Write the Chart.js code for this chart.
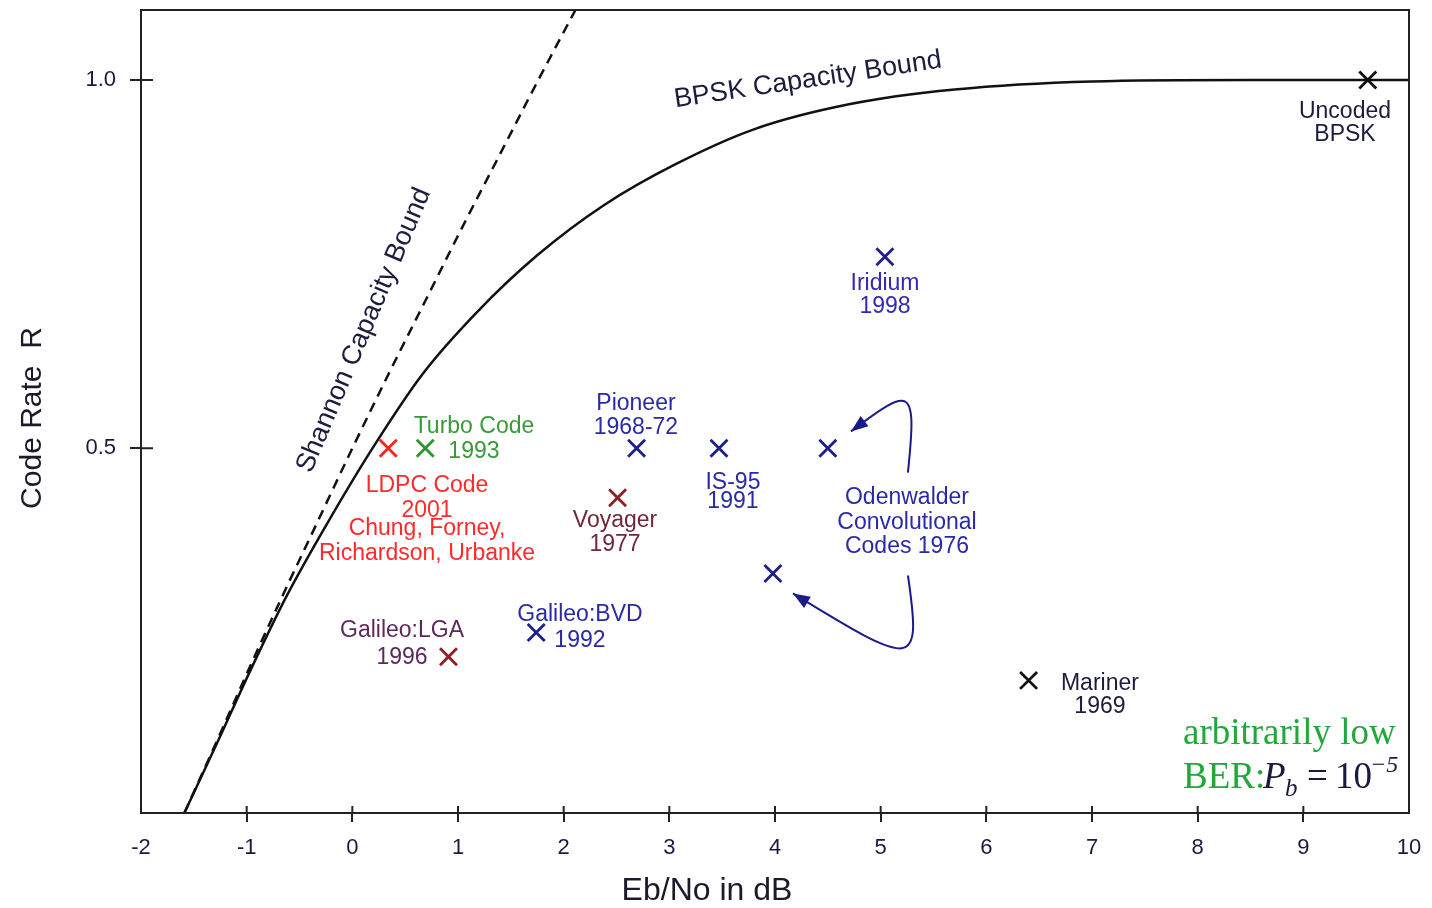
<!DOCTYPE html>
<html>
<head>
<meta charset="utf-8">
<script src="https://cdn.jsdelivr.net/npm/chart.js@4.4.1/dist/chart.umd.min.js"></script>
<style>
body{margin:0;background:#fff}
#wrap{width:1432px;height:908px}
</style>
</head>
<body>
<div id="wrap"><canvas id="myChart"></canvas></div>
<script>
// Shannon capacity bound (dashed)
const shannonEbNo = [-1.59, -1.29, -0.98, -0.66, -0.33, 0.00, 0.34, 0.69, 1.04, 1.40, 1.76, 2.13]
const shannonRate = [0.005, 0.1, 0.2, 0.3, 0.4, 0.5, 0.6, 0.7, 0.8, 0.9, 1.0, 1.1]

// BPSK capacity bound (solid)
const bpskEbNo = [-1.59, -1.28, -0.96, -0.62, -0.23, 0.19, 0.66, 1.18, 1.75, 2.38, 3.05, 3.80, 4.70, 5.70, 7.00, 8.50, 10.0]
const bpskRate = [0.005, 0.1, 0.2, 0.3, 0.4, 0.5, 0.6, 0.685, 0.762, 0.83, 0.885, 0.933, 0.967, 0.987, 0.998, 1.0, 1.0]

// codes (x marks)
const codeNames = ['Pioneer', 'IS-95', 'Odenwalder r1/2', 'Odenwalder r1/3', 'Galileo:BVD', 'Iridium', 'LDPC', 'Turbo', 'Voyager', 'Galileo:LGA', 'Mariner', 'Uncoded BPSK']
const codeEbNo = [2.69, 3.47, 4.50, 3.98, 1.74, 5.04, 0.34, 0.69, 2.51, 0.91, 6.40, 9.61]
const codeRate = [0.5, 0.5, 0.5, 0.33, 0.25, 0.76, 0.5, 0.5, 0.433, 0.217, 0.185, 1.0]
const codeGroup = ['blue', 'blue', 'blue', 'blue', 'blue', 'blue', 'red', 'green', 'maroon', 'maroon', 'black', 'black']

const xTicks = [-2, -1, 0, 1, 2, 3, 4, 5, 6, 7, 8, 9, 10]
const yTicks = [0.5, 1.0]

const groupColor = {blue:'#1e1e8c', red:'#ff2020', green:'#2a962a', maroon:'#8b2222', black:'#111'}
const SANS = "'Liberation Sans', Arial, sans-serif"
const SERIF = "'Liberation Serif', 'Times New Roman', serif"

// text notes, placed in data units
const notes = [
    {lines:['Uncoded','BPSK'], x:9.394, y:0.9565, dy:[0,23], color:'#1c1c3c'},
    {lines:['Iridium','1998'], x:5.041, y:0.7242, dy:[0,23], color:'#3428b4'},
    {lines:['Pioneer','1968-72'], x:2.684, y:0.5611, dy:[0,24], color:'#2a2aa6'},
    {lines:['Turbo Code','1993'], x:1.151, y:0.5299, dy:[0,25], color:'#3a9a3a'},
    {lines:['LDPC Code','2001','Chung, Forney,','Richardson, Urbanke'], x:0.707, y:0.4497, dy:[0,25,43,68], color:'#ff2a2a'},
    {lines:['IS-95','1991'], x:3.602, y:0.4538, dy:[0,19], color:'#2a2aa6'},
    {lines:['Voyager','1977'], x:2.486, y:0.4022, dy:[0,24], color:'#6e2838'},
    {lines:['Odenwalder','Convolutional','Codes 1976'], x:5.249, y:0.4334, dy:[0,25,49], color:'#2a2aa6'},
    {lines:['Galileo:BVD','1992'], x:2.154, y:0.2745, dy:[0,26], color:'#2a2aa6'},
    {lines:['Galileo:LGA','1996'], x:0.470, y:0.2527, dy:[0,27], color:'#5a2a5a'},
    {lines:['Mariner','1969'], x:7.075, y:0.1807, dy:[0,23], color:'#1c1c3c'}
]
const slanted = [
    {text:'Shannon Capacity Bound', x:0.110, y:0.6603, angle:-67},
    {text:'BPSK Capacity Bound', x:4.312, y:1.0, angle:-8.5}
]
// curved arrows from the Odenwalder note (cubic bezier, data units)
const arrows = [
    [[5.258,0.467],[5.344,0.5856],[5.296,0.5856],[4.719,0.523]],
    [[5.258,0.3274],[5.391,0.1984],[5.325,0.2011],[4.170,0.303]]
]

const groups = ['blue','red','green','maroon','black']
const markerSets = groups.map(g => ({
    label: g,
    data: codeEbNo.map((x,i) => ({x, y:codeRate[i], g:codeGroup[i]})).filter(p => p.g === g),
    pointStyle: 'crossRot',
    pointRadius: 12,
    pointBorderWidth: 2.8,
    borderColor: groupColor[g],
    backgroundColor: groupColor[g],
    showLine: false
}))

const decor = {
    id:'decor',
    afterDraw(chart){
        const c = chart.ctx, a = chart.chartArea
        const sx = chart.scales.x, sy = chart.scales.y
        const X = v => sx.getPixelForValue(v), Y = v => sy.getPixelForValue(v)
        c.save()
        // frame
        c.strokeStyle = '#222'; c.lineWidth = 2
        c.strokeRect(a.left, a.top, a.right - a.left, a.bottom - a.top)
        // inward tick parts
        c.beginPath()
        xTicks.slice(1,-1).forEach(v => { c.moveTo(X(v), a.bottom); c.lineTo(X(v), a.bottom - 7) })
        yTicks.forEach(v => { c.moveTo(a.left, Y(v)); c.lineTo(a.left + 12, Y(v)) })
        c.stroke()

        // arrows
        c.strokeStyle = '#1a1a8a'; c.fillStyle = '#1a1a8a'; c.lineWidth = 2
        arrows.forEach(p => {
            const q = p.map(d => [X(d[0]), Y(d[1])])
            c.beginPath()
            c.moveTo(q[0][0], q[0][1])
            c.bezierCurveTo(q[1][0], q[1][1], q[2][0], q[2][1], q[3][0], q[3][1])
            c.stroke()
            const ang = Math.atan2(q[3][1] - q[2][1], q[3][0] - q[2][0])
            const L = 17, W = 6.5
            c.beginPath()
            c.moveTo(q[3][0], q[3][1])
            c.lineTo(q[3][0] - L*Math.cos(ang) + W*Math.sin(ang), q[3][1] - L*Math.sin(ang) - W*Math.cos(ang))
            c.lineTo(q[3][0] - L*Math.cos(ang) - W*Math.sin(ang), q[3][1] - L*Math.sin(ang) + W*Math.cos(ang))
            c.closePath(); c.fill()
        })

        // notes
        c.textAlign = 'center'; c.textBaseline = 'middle'
        c.font = `23px ${SANS}`
        notes.forEach(n => {
            c.fillStyle = n.color
            n.lines.forEach((t,i) => c.fillText(t, X(n.x), Y(n.y) + n.dy[i]))
        })
        c.font = `27px ${SANS}`
        c.fillStyle = '#1c1c3c'
        slanted.forEach(s => {
            c.save()
            c.translate(X(s.x), Y(s.y))
            c.rotate(s.angle * Math.PI / 180)
            c.fillText(s.text, 0, 0)
            c.restore()
        })

        // axis titles
        c.fillStyle = '#1a1a2a'
        c.font = `32px ${SANS}`
        c.fillText('Eb/No in dB', 707, 891)
        c.save()
        c.translate(33, 418)
        c.rotate(-Math.PI/2)
        c.font = `30px ${SANS}`
        c.fillText('Code Rate  R', 0, 0)
        c.restore()

        // BER note
        c.textAlign = 'left'; c.textBaseline = 'alphabetic'
        const bx = X(7.861), by1 = Y(0.0992), by2 = Y(0.0394)
        c.fillStyle = '#22a83a'
        c.font = `37px ${SERIF}`
        c.fillText('arbitrarily low', bx, by1)
        c.fillText('BER:', bx, by2)
        c.fillStyle = '#1a1a3a'
        c.font = `italic 37px ${SERIF}`
        c.fillText('P', bx + 80, by2)
        c.font = `italic 25px ${SERIF}`
        c.fillText('b', bx + 102, by2 + 8)
        c.font = `37px ${SERIF}`
        c.fillText('=', bx + 124, by2)
        c.fillText('10', bx + 152, by2)
        c.font = `italic 24px ${SERIF}`
        c.fillText('\u22125', bx + 187, by2 - 16)
        c.restore()
    }
}

const ctx = document.getElementById('myChart')
new Chart(ctx, {
    type: 'scatter',
    data: {
        datasets: [
            {
                label: 'Shannon Capacity Bound',
                data: shannonEbNo.map((x,i) => ({x, y:shannonRate[i]})),
                showLine: true,
                borderColor: '#111',
                borderWidth: 2.5,
                borderDash: [10, 7],
                pointRadius: 0,
                cubicInterpolationMode: 'monotone',
                clip: 0
            },
            {
                label: 'BPSK Capacity Bound',
                data: bpskEbNo.map((x,i) => ({x, y:bpskRate[i]})),
                showLine: true,
                borderColor: '#111',
                borderWidth: 2.5,
                pointRadius: 0,
                cubicInterpolationMode: 'monotone',
                clip: 0
            },
            ...markerSets
        ]
    },
    options: {
        responsive: true,
        maintainAspectRatio: false,
        animation: false,
        devicePixelRatio: 1,
        layout: {autoPadding: false, padding: {top: 10, right: 23, left: 0, bottom: 0}},
        plugins: {legend: {display: false}, tooltip: {enabled: false}},
        scales: {
            x: {
                type: 'linear', min: -2, max: 10,
                afterFit(s){ s.height = 95; s.paddingLeft = 0; s.paddingRight = 0 },
                afterBuildTicks(s){ s.ticks = xTicks.map(v => ({value: v})) },
                ticks: {font: {family: SANS, size: 22}, color: '#1a1a40', padding: 13, maxRotation: 0, autoSkip: false},
                grid: {drawOnChartArea: false, drawTicks: true, tickLength: 9, lineWidth: 2,
                    color: c => (c.tick && (c.tick.value === -2 || c.tick.value === 10)) ? 'rgba(0,0,0,0)' : '#222'},
                border: {display: false}
            },
            y: {
                type: 'linear', min: 0.005, max: 1.095,
                afterFit(s){ s.width = 141; s.paddingTop = 0; s.paddingBottom = 0 },
                afterBuildTicks(s){ s.ticks = yTicks.map(v => ({value: v})) },
                ticks: {font: {family: SANS, size: 22}, color: '#1a1a40', padding: 14, callback: v => v.toFixed(1)},
                grid: {drawOnChartArea: false, drawTicks: true, tickLength: 11, lineWidth: 2, color: '#222'},
                border: {display: false}
            }
        }
    },
    plugins: [decor]
})
</script>
</body>
</html>
